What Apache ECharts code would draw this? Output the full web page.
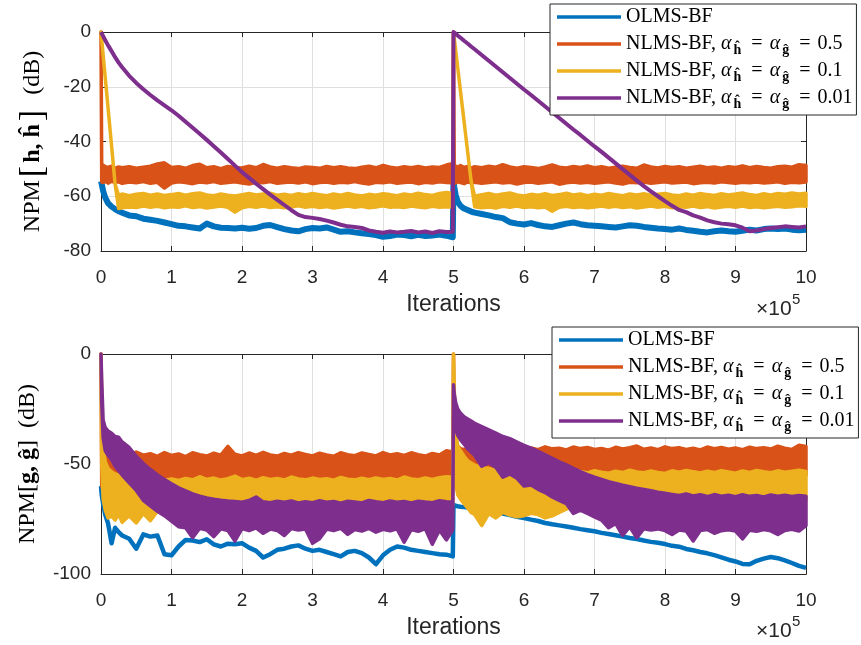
<!DOCTYPE html>
<html><head><meta charset="utf-8">
<script src="https://cdn.jsdelivr.net/npm/echarts/dist/echarts.min.js"></script>
<style>html,body{margin:0;padding:0;background:#fff}#c{width:861px;height:645px}</style>
</head><body><div id="c"></div>
<script>
// iterations (x 10^5)
const iters = [0,0.01,0.03,0.06,0.1,0.15,0.2,0.25,0.3, 0.4,0.5,0.6,0.7,0.8,0.9, 1,1.1,1.2,1.3,1.4,1.5,1.6,1.7,1.8,1.9, 2,2.1,2.2,2.3,2.4,2.5,2.6,2.7,2.8,2.9, 3,3.1,3.2,3.3,3.4,3.5,3.6,3.7,3.8,3.9, 4,4.1,4.2,4.3,4.4,4.5,4.6,4.7,4.8,4.9, 4.99,
 5,5.01,5.03,5.06,5.1,5.15,5.2,5.25,5.3, 5.4,5.5,5.6,5.7,5.8,5.9, 6,6.1,6.2,6.3,6.4,6.5,6.6,6.7,6.8,6.9, 7,7.1,7.2,7.3,7.4,7.5,7.6,7.7,7.8,7.9, 8,8.1,8.2,8.3,8.4,8.5,8.6,8.7,8.8,8.9, 9,9.1,9.2,9.3,9.4,9.5,9.6,9.7,9.8,9.9, 10];

const xTicks = [0,1,2,3,4,5,6,7,8,9,10];
const topYTicks = [-80,-60,-40,-20,0];
const botYTicks = [-100,-50,0];

// ---------- top panel: NPM[h, h^] ----------
const topOlms = [-54.5,-55.5,-58,-60.5,-62.5,-63.8,-64.7,-65.5,-66.0, -67.0,-67.3,-68.2,-68.6,-69.0,-69.6, -70.2,-70.8,-71.0,-71.4,-71.8,-70.0,-71.0,-71.5,-71.6,-71.8, -71.5,-71.9,-71.6,-70.8,-70.5,-71.3,-72.0,-72.5,-72.8,-72.0, -71.6,-71.8,-71.4,-72.2,-73.0,-72.8,-73.2,-73.5,-73.8,-74.2, -74.8,-74.5,-74.0,-74.2,-74.6,-74.1,-74.5,-74.3,-74.0,-74.4, -75.0,
 -54.0,-56.5,-59.5,-62.0,-63.5,-64.5,-65.0,-65.6,-66.0, -66.5,-67.0,-67.6,-68.0,-69.5,-70.0, -70.3,-69.8,-70.5,-71.0,-71.2,-70.6,-70.0,-69.6,-70.2,-70.6, -70.8,-71.0,-71.2,-71.4,-71.0,-70.6,-70.8,-71.2,-71.5,-71.8, -72.0,-72.2,-71.8,-72.3,-72.6,-73.0,-73.2,-72.8,-72.5,-72.8, -73.0,-72.6,-72.2,-72.5,-72.0,-71.8,-72.0,-71.8,-72.2,-72.4, -72.2];

const topA05Hi = [0,-48.5,-48.6,-49.2,-49.5,-49.0,-49.8,-49.3,-49.6, -49.2,-49.8,-49.4,-49.0,-48.2,-47.8, -49.5,-49.2,-49.8,-48.8,-48.3,-49.6,-49.2,-49.9,-49.1,-49.5, -49.7,-49.0,-49.6,-48.4,-49.3,-49.8,-49.2,-49.6,-49.9,-49.3, -49.5,-49.8,-49.1,-49.6,-49.2,-49.7,-49.9,-49.4,-49.0,-49.6, -48.7,-49.4,-49.8,-49.2,-49.6,-49.1,-49.7,-49.3,-49.5,-48.6, -48.0,
 0,-48.5,-49.0,-49.4,-48.8,-49.5,-49.1,-49.7,-49.2, -49.6,-49.0,-49.4,-48.5,-49.3,-49.8, -49.2,-49.5,-49.9,-49.3,-48.6,-49.4,-49.7,-49.1,-49.5,-48.9, -49.6,-49.2,-49.8,-49.4,-49.0,-49.5,-49.8,-48.6,-49.3,-49.7, -49.1,-49.5,-49.2,-49.8,-49.4,-49.0,-49.6,-49.3,-49.8,-49.2, -49.5,-48.9,-49.6,-49.1,-49.5,-49.8,-49.2,-49.0,-49.4,-48.5, -48.8];
const topA05Lo = [0,-54.8,-55.0,-54.6,-55.2,-54.5,-55.0,-54.7,-55.3, -54.8,-55.1,-54.6,-55.3,-54.9,-57.0, -55.2,-54.7,-55.0,-55.4,-54.8,-55.1,-54.6,-55.3,-55.0,-54.7, -55.2,-55.5,-54.9,-55.1,-54.6,-55.3,-55.0,-54.8,-55.2,-54.7, -55.4,-55.0,-54.8,-55.3,-54.9,-55.1,-54.6,-55.2,-55.5,-54.9, -55.1,-54.7,-55.3,-55.0,-54.8,-55.4,-54.9,-55.2,-54.7,-55.0, -55.1,
 0,-54.8,-55.2,-54.7,-55.0,-55.4,-54.8,-55.1,-54.9, -55.3,-55.0,-54.7,-55.2,-54.9,-55.5, -55.0,-54.8,-55.3,-55.0,-54.7,-55.6,-55.1,-54.8,-55.2,-54.9, -55.3,-55.0,-54.7,-55.2,-55.5,-54.9,-55.1,-54.8,-55.3,-55.0, -54.7,-55.2,-55.0,-54.8,-55.4,-55.1,-54.9,-55.2,-54.7,-55.0, -55.3,-54.9,-55.1,-54.8,-55.2,-55.0,-54.7,-55.3,-54.9,-55.1, -54.8];

const topA01Hi = [0,-2.8,-8.3,-16.6,-27.7,-41.6,-55.5,-59.6,-59.2, -59.8,-59.3,-59.0,-59.6,-59.2,-59.7, -59.4,-59.0,-59.6,-59.1,-58.8,-59.5,-59.8,-59.2,-59.6,-59.9, -59.4,-59.0,-59.5,-59.2,-58.9,-59.6,-59.3,-59.7,-59.1,-59.5, -59.0,-59.4,-59.8,-59.2,-59.6,-59.0,-59.5,-59.9,-59.3,-59.6, -59.1,-59.4,-59.8,-59.2,-59.5,-58.9,-59.4,-59.7,-59.0,-58.6, -59.0,
 0,-2.2,-6.5,-13.0,-21.8,-32.7,-43.6,-54.5,-60.0, -59.4,-59.0,-59.6,-59.2,-58.8,-59.5, -59.9,-59.3,-59.6,-59.1,-59.7,-59.4,-58.9,-59.5,-59.2,-59.8, -59.3,-59.6,-59.0,-59.4,-59.8,-59.2,-59.5,-59.1,-59.6,-59.3, -59.0,-59.5,-59.8,-59.2,-59.6,-59.0,-59.4,-59.7,-59.1,-59.5, -59.2,-58.8,-59.4,-59.7,-59.1,-59.5,-59.0,-59.3,-58.8,-59.2, -58.9];
const topA01Lo = [0,-2.8,-8.3,-16.6,-27.7,-41.6,-55.5,-64.5,-64.2, -63.9,-64.1,-63.6,-64.0,-63.7,-64.2, -63.8,-64.0,-63.5,-64.1,-63.8,-64.3,-63.9,-63.6,-64.0,-65.8, -64.2,-63.7,-64.0,-63.6,-64.1,-63.8,-64.2,-63.9,-63.5,-64.0, -63.7,-64.1,-63.8,-64.3,-63.9,-63.6,-64.0,-63.7,-64.2,-63.9, -63.5,-64.0,-63.8,-64.1,-63.6,-63.9,-64.2,-63.7,-64.0,-63.8, -63.9,
 0,-2.2,-6.5,-13.0,-21.8,-32.7,-43.6,-54.5,-63.8, -64.2,-63.9,-64.3,-63.7,-64.0,-63.6, -64.1,-63.8,-64.2,-63.9,-65.5,-64.0,-63.7,-64.1,-63.8,-64.2, -63.9,-63.6,-64.0,-63.7,-64.1,-63.8,-64.3,-63.9,-63.6,-64.0, -63.7,-64.2,-63.8,-64.0,-63.6,-64.1,-63.8,-64.3,-63.9,-63.7, -64.0,-63.6,-64.1,-63.8,-64.2,-63.9,-63.7,-64.0,-63.8,-63.5, -63.7];

const topA001 = [0,-0.5,-1.5,-3.0,-4.9,-7.0,-9.2,-11.2,-12.9, -16.0,-18.6,-20.9,-23.0,-25.0,-26.8, -28.6,-30.6,-32.8,-35.0,-37.2,-39.4,-41.7,-44.0,-46.4,-48.8, -51.2,-53.3,-55.4,-57.4,-59.4,-61.3,-63.2,-65.1,-66.8,-67.6, -67.9,-68.3,-68.9,-69.6,-70.4,-71.0,-71.2,-71.6,-72.5,-73.0, -73.3,-72.9,-73.2,-73.0,-72.7,-73.2,-72.9,-73.4,-72.8,-73.1, -73.0,
 0,-0.2,-0.6,-1.3,-2.1,-3.2,-4.2,-5.3,-6.3, -8.4,-10.5,-12.6,-14.7,-16.8,-18.9, -21.0,-23.0,-25.1,-27.2,-29.3,-31.4,-33.5,-35.6,-37.6,-39.7, -41.8,-43.8,-45.9,-48.0,-50.1,-52.2,-54.3,-56.3,-58.2,-60.0, -61.8,-63.5,-65.0,-65.8,-67.0,-67.8,-68.8,-69.5,-70.0,-70.2, -70.6,-71.5,-72.8,-72.5,-72.0,-71.6,-71.3,-71.0,-71.2,-71.4, -71.0];

// ---------- bottom panel: NPM[g, g^] ----------
const botOlms = [-60,-64,-68,-73,-77,-86,-79,-81,-82.5, -84,-88.5,-82,-83,-82.5,-91, -91.5,-87.5,-84.5,-84.8,-85.5,-84.2,-86.5,-87.5,-86.2,-86.5, -86.0,-88.0,-89.5,-92.5,-91.0,-89.0,-88.5,-87.5,-87.0,-88.5, -89.5,-89.0,-90.0,-91.0,-92.0,-90.0,-89.5,-90.5,-92.5,-95.5, -91.5,-89.0,-87.5,-88.0,-89.0,-89.5,-90.0,-90.5,-91.0,-91.2, -92.0,
 -68.5,-68.8,-69.0,-69.2,-69.4,-69.6,-69.8,-70.0,-70.2, -70.6,-71.2,-71.8,-72.5,-73.2,-74.0, -74.6,-75.3,-75.9,-76.8,-77.4,-77.9,-78.4,-79.0,-79.6,-80.1, -80.6,-81.3,-81.8,-82.4,-83.0,-83.6,-84.1,-84.8,-85.4,-85.8, -86.4,-87.2,-87.6,-88.6,-89.2,-90.0,-90.6,-91.4,-92.4,-93.5, -94.3,-95.4,-95.6,-94.0,-93.0,-92.3,-92.8,-93.8,-95.0,-96.3, -97.2];

const botA05Hi = [0,-30,-43,-45,-45.5,-46.5,-45.2,-46.8,-45.0, -46.2,-44.6,-46.0,-45.3,-46.5,-44.8, -46.1,-45.4,-46.6,-44.9,-45.8,-46.4,-45.1,-46.0,-42.0,-45.6, -46.3,-45.0,-46.1,-44.7,-45.9,-46.4,-45.2,-46.0,-44.8,-45.7, -46.3,-45.1,-45.9,-46.5,-44.9,-45.8,-46.2,-45.0,-45.7,-46.3, -44.8,-45.9,-45.3,-46.1,-44.9,-45.8,-46.4,-45.2,-45.9,-44.0, -44.5,
 0,-25,-38,-42,-43,-43.5,-42.8,-43.6,-42.5, -43.4,-42.0,-43.2,-42.6,-43.8,-42.4, -43.3,-42.7,-43.5,-42.2,-43.1,-42.8,-43.6,-42.3,-43.0,-42.5, -43.4,-42.9,-43.7,-42.4,-43.2,-42.6,-41.8,-43.3,-42.7,-43.5, -42.2,-43.0,-42.6,-43.4,-42.8,-43.6,-42.3,-43.1,-42.5,-43.3, -42.7,-43.5,-42.4,-43.0,-42.6,-43.2,-41.9,-42.8,-43.4,-41.5, -42.0];
const botA05Lo = [0,-60,-62,-59,-57.5,-56.5,-57.0,-55.8,-56.6, -55.9,-56.8,-56.2,-55.7,-56.9,-56.3, -55.8,-56.6,-56.1,-56.9,-55.9,-56.5,-56.0,-56.8,-56.2,-55.7, -56.6,-56.1,-56.9,-56.3,-55.8,-56.7,-56.0,-56.5,-55.9,-56.8, -56.2,-55.7,-56.6,-56.0,-56.9,-56.3,-55.8,-56.5,-56.1,-56.8, -56.2,-55.9,-56.6,-56.0,-56.7,-56.2,-55.8,-56.5,-56.0,-56.6, -56.2,
 0,-55,-60,-62,-60,-58,-56.5,-55.8,-56.2, -55.5,-55.9,-55.2,-55.8,-55.0,-55.6, -55.1,-55.7,-55.3,-54.8,-55.5,-55.0,-55.6,-55.2,-54.9,-55.5, -55.1,-55.7,-55.0,-55.4,-54.8,-55.5,-55.1,-55.6,-55.0,-55.3, -54.9,-55.5,-55.1,-55.7,-55.0,-55.4,-54.8,-55.5,-55.2,-55.6, -55.0,-55.4,-54.9,-55.5,-55.1,-55.6,-55.0,-55.3,-54.9,-55.4, -55.0];

const botA01Hi = [0,-20,-42,-49,-52,-53.5,-54.5,-55,-55.5, -56.0,-56.5,-56.8,-57.2,-56.5,-57.4, -56.8,-57.5,-56.6,-57.2,-55.8,-57.0,-56.4,-57.3,-56.7,-55.5, -57.1,-56.5,-57.4,-56.2,-57.0,-56.6,-57.3,-55.9,-56.8,-57.2, -56.4,-57.0,-56.7,-57.4,-56.1,-56.9,-57.2,-56.5,-57.1,-56.3, -57.0,-56.6,-57.3,-55.9,-56.8,-57.1,-56.4,-57.0,-56.2,-55.8, -56.0,
 0,-15,-35,-42,-44,-46.5,-48.5,-49.5,-50.5, -51.5,-52.0,-52.8,-53.2,-53.6,-53.0, -54.0,-53.4,-54.2,-53.1,-53.8,-54.3,-53.2,-53.9,-53.4,-54.1, -53.0,-53.7,-54.2,-53.3,-53.9,-52.8,-53.6,-54.0,-53.2,-53.8, -54.3,-53.1,-53.7,-52.9,-53.5,-54.1,-53.3,-53.9,-53.0,-53.6, -54.2,-53.2,-53.8,-52.9,-53.5,-54.0,-53.1,-53.7,-53.3,-52.8, -53.4];
const botA01Lo = [0,-50,-66,-71,-74.5,-73.5,-75.5,-72.8,-76.5, -73.5,-76.8,-72.5,-75.8,-71.5,-72.8, -70.2,-69.5,-68.8,-69.4,-68.6,-69.2,-68.4,-69.0,-68.7,-69.3, -68.5,-69.1,-68.6,-69.4,-68.8,-68.3,-69.0,-68.6,-69.2,-68.4, -68.9,-68.5,-69.3,-68.7,-68.2,-69.0,-68.6,-69.1,-68.4,-68.8, -69.2,-68.5,-68.9,-68.3,-69.0,-68.6,-69.1,-68.4,-68.8,-68.5, -68.7,
 0,-40,-58,-64,-66,-68,-70,-72,-73, -78,-72.5,-74.5,-72.0,-73.2,-74.0, -73.5,-72.4,-73.0,-74.5,-73.6,-72.0,-70.5,-69.2,-68.4,-67.6, -67.0,-66.6,-67.2,-66.5,-67.0,-66.4,-67.1,-76.0,-66.8,-66.3, -67.0,-66.5,-66.9,-66.2,-66.8,-66.4,-67.0,-66.3,-66.7,-66.1, -66.8,-66.4,-66.9,-66.2,-66.6,-66.0,-66.7,-66.3,-66.8,-66.1, -66.5];

const botA001Hi = [0,-12,-30,-33.5,-35.0,-36.0,-37.5,-37.8,-40.0, -42.5,-46.5,-49.8,-52.5,-55.0,-57.0, -59.0,-60.8,-62.2,-63.6,-64.6,-65.4,-66.0,-66.5,-66.8,-67.0, -67.4,-66.6,-65.0,-67.2,-67.6,-66.9,-67.4,-66.8,-67.7,-67.2, -67.6,-66.7,-67.4,-67.0,-67.8,-66.9,-67.3,-67.7,-66.6,-67.2, -67.6,-66.8,-67.4,-67.0,-67.7,-66.9,-67.3,-67.6,-66.7,-67.2, -67.4,
 -14,-18,-22,-25,-27,-28.5,-29.5,-30.5,-31.5, -33.0,-34.5,-36.0,-37.5,-38.5,-40.0, -41.5,-42.8,-44.2,-45.8,-47.4,-49.0,-50.4,-52.0,-53.4,-54.8, -56.0,-57.0,-58.0,-58.8,-59.6,-60.3,-61.0,-61.6,-62.2,-62.8, -63.3,-63.8,-64.3,-63.6,-64.5,-64.0,-64.8,-63.9,-64.6,-64.2, -64.9,-64.0,-64.7,-64.3,-65.0,-64.1,-64.6,-64.2,-64.8,-64.3, -64.6];
const botA001Lo = [0,-22,-38,-44,-46,-48,-51,-53,-55, -58.5,-62,-66.5,-69,-71.5,-73.5, -76,-78.5,-79.0,-83.5,-79.2,-80.0,-83.0,-79.5,-80.2,-85.0, -79.4,-80.3,-79.0,-81.5,-79.6,-80.2,-82.5,-79.3,-80.0,-79.5, -86.0,-84.0,-79.6,-80.3,-79.2,-82.0,-79.8,-80.5,-79.3,-81.0, -79.7,-80.4,-79.5,-85.5,-79.8,-80.6,-79.4,-86.5,-80.0,-84.5, -80.0,
 -18,-28,-34,-37,-39,-41,-43,-44.5,-46, -51.0,-49.5,-51.5,-56.0,-54.5,-56.5, -60.0,-59.5,-61.5,-63.0,-65.0,-66.5,-68.0,-72.5,-71.0,-72.5, -74.0,-75.5,-79.0,-77.0,-82.5,-78.5,-83.5,-79.4,-80.0,-79.5, -80.3,-82.0,-80.0,-80.5,-85.0,-80.2,-79.8,-81.5,-80.3,-79.9, -80.5,-84.0,-80.1,-80.6,-79.8,-80.4,-82.0,-80.2,-79.7,-80.5, -78.0];

const seriesNames = ['OLMS-BF', 'NLMS-BF, αĥ = αĝ = 0.5', 'NLMS-BF, αĥ = αĝ = 0.1', 'NLMS-BF, αĥ = αĝ = 0.01'];
const alphaVals = ['', '0.5', '0.1', '0.01'];
const colors = ['#0072BD', '#D95319', '#EDB120', '#7E2F8E'];

// ---------- helpers ----------
const AX = '#262626';
const SANS = '"Liberation Sans", Arial, sans-serif';
const SERIF = '"Liberation Serif", "Times New Roman", serif';

function lineSeries(name, color, vals, gi, width, z) {
  return {
    name, type: 'line', xAxisIndex: gi * 2, yAxisIndex: gi * 2, z,
    showSymbol: false, symbol: 'none', silent: true, animation: false,
    emphasis: {disabled: true},
    lineStyle: {color, width, join: 'round'}, itemStyle: {color},
    data: iters.map((x, i) => [x, vals[i]])
  };
}
function bandSeries(name, color, hi, lo, gi, z) {
  return {
    name, type: 'custom', xAxisIndex: gi * 2, yAxisIndex: gi * 2, z,
    silent: true, animation: false, emphasis: {disabled: true},
    itemStyle: {color},
    data: [[iters[0], hi[0]]],
    renderItem: function (params, api) {
      const pts = [];
      for (let i = 0; i < iters.length; i++) pts.push(api.coord([iters[i], hi[i]]));
      for (let i = iters.length - 1; i >= 0; i--) pts.push(api.coord([iters[i], lo[i]]));
      return {type: 'polygon', shape: {points: pts},
        style: {fill: color, stroke: color, lineWidth: 3.5, lineJoin: 'round'}};
    }
  };
}

function xAxes(gi) {
  return [{
    type: 'value', gridIndex: gi, min: 0, max: 10, interval: 1, position: 'bottom',
    axisLine: {show: true, onZero: false, lineStyle: {color: AX, width: 1}},
    axisTick: {show: true, inside: true, length: 5, lineStyle: {color: AX}},
    axisLabel: {color: AX, fontFamily: SANS, fontSize: 19, margin: 17},
    splitLine: {show: true, lineStyle: {color: '#dfdfdf', width: 1}},
    name: 'Iterations', nameLocation: 'middle', nameGap: 42,
    nameTextStyle: {color: AX, fontFamily: SANS, fontSize: 23}
  }, {
    type: 'value', gridIndex: gi, min: 0, max: 10, interval: 1, position: 'top',
    axisLine: {show: true, onZero: false, lineStyle: {color: AX, width: 1}},
    axisTick: {show: true, inside: true, length: 5, lineStyle: {color: AX}},
    axisLabel: {show: false}, splitLine: {show: false}
  }];
}
const nameRich = {
  t: {fontFamily: SERIF, fontSize: 24, lineHeight: 28, color: '#000'},
  b: {fontFamily: SERIF, fontSize: 34, lineHeight: 28, color: '#000', padding: [0, 3, 0, 3]},
  h: {fontFamily: SERIF, fontSize: 24, lineHeight: 28, fontWeight: 'bold', color: '#000'}
};
function yAxes(gi, min, interval, name, nameGap) {
  return [{
    type: 'value', gridIndex: gi, min, max: 0, interval, position: 'left',
    axisLine: {show: true, onZero: false, lineStyle: {color: AX, width: 1}},
    axisTick: {show: true, inside: true, length: 5, lineStyle: {color: AX}},
    axisLabel: {color: AX, fontFamily: SANS, fontSize: 19, margin: 10},
    splitLine: {show: true, lineStyle: {color: '#dfdfdf', width: 1}},
    name, nameLocation: 'middle', nameGap,
    nameTextStyle: {color: '#000', fontFamily: SERIF, fontSize: 24, lineHeight: 28, rich: nameRich}
  }, {
    type: 'value', gridIndex: gi, min, max: 0, interval, position: 'right',
    axisLine: {show: true, onZero: false, lineStyle: {color: AX, width: 1}},
    axisTick: {show: true, inside: true, length: 5, lineStyle: {color: AX}},
    axisLabel: {show: false}, splitLine: {show: false}
  }];
}

const legendRich = {
  t: {fontFamily: SERIF, fontSize: 20, lineHeight: 26, color: '#000'},
  v: {fontFamily: SERIF, fontSize: 20, lineHeight: 26, color: '#000'},
  a: {fontFamily: SERIF, fontSize: 20, fontStyle: 'italic', lineHeight: 26, color: '#000', padding: [0, 1, 0, 0]},
  e: {fontFamily: SERIF, fontSize: 20, lineHeight: 26, color: '#000', padding: [0, 7, 0, 7]},
  s: {fontFamily: SERIF, fontSize: 14, fontWeight: 'bold', lineHeight: 13, verticalAlign: 'bottom', color: '#000', padding: [0, 3, 0, 1]}
};
function legendFormatter(name) {
  const i = seriesNames.indexOf(name);
  if (i <= 0) return '{t|' + name + '}';
  return '{t|NLMS-BF, }{a|α}{s|ĥ}{e|=}{a|α}{s|ĝ}{e|=}{v|' + alphaVals[i] + '}';
}
function mkLegend(left, top) {
  return {
    left, top, orient: 'vertical', data: seriesNames, icon: 'rect',
    itemWidth: 64, itemHeight: 3.5, itemGap: 1, padding: [0, 4, 4, 7],
    backgroundColor: '#fff', borderColor: AX, borderWidth: 1, borderRadius: 0,
    selectedMode: false, formatter: legendFormatter, z: 20,
    textStyle: {color: '#000', fontFamily: SERIF, fontSize: 20, lineHeight: 26, rich: legendRich}
  };
}

const option = {
  animation: false,
  backgroundColor: '#fff',
  grid: [
    {left: 101, top: 32, width: 705, height: 219},
    {left: 101, top: 354, width: 705, height: 220}
  ],
  xAxis: [...xAxes(0), ...xAxes(1)],
  yAxis: [
    ...yAxes(0, -80, 20, '{t|NPM}{b|[}{h|h, ĥ}{b|]}{t|  (dB)}', 54),
    ...yAxes(1, -100, 50, '{t|NPM[}{h|g, ĝ}{t|]  (dB)}', 58)
  ],
  legend: [mkLegend(550, 4), mkLegend(552, 327)],
  graphic: [
    {type: 'text', left: 756, top: 299, style: {text: '×10', font: '21px ' + SANS, fill: AX}},
    {type: 'text', left: 792, top: 292, style: {text: '5', font: '15px ' + SANS, fill: AX}},
    {type: 'text', left: 756, top: 621, style: {text: '×10', font: '21px ' + SANS, fill: AX}},
    {type: 'text', left: 792, top: 614, style: {text: '5', font: '15px ' + SANS, fill: AX}}
  ],
  series: [
    lineSeries(seriesNames[0], colors[0], topOlms, 0, 6, 2),
    bandSeries(seriesNames[1], colors[1], topA05Hi, topA05Lo, 0, 3),
    bandSeries(seriesNames[2], colors[2], topA01Hi, topA01Lo, 0, 4),
    lineSeries(seriesNames[3], colors[3], topA001, 0, 4, 5),
    lineSeries(seriesNames[0], colors[0], botOlms, 1, 4.5, 2),
    bandSeries(seriesNames[1], colors[1], botA05Hi, botA05Lo, 1, 3),
    bandSeries(seriesNames[2], colors[2], botA01Hi, botA01Lo, 1, 4),
    bandSeries(seriesNames[3], colors[3], botA001Hi, botA001Lo, 1, 5)
  ]
};
const chart = echarts.init(document.getElementById('c'));
chart.setOption(option);
</script>
</body></html>
